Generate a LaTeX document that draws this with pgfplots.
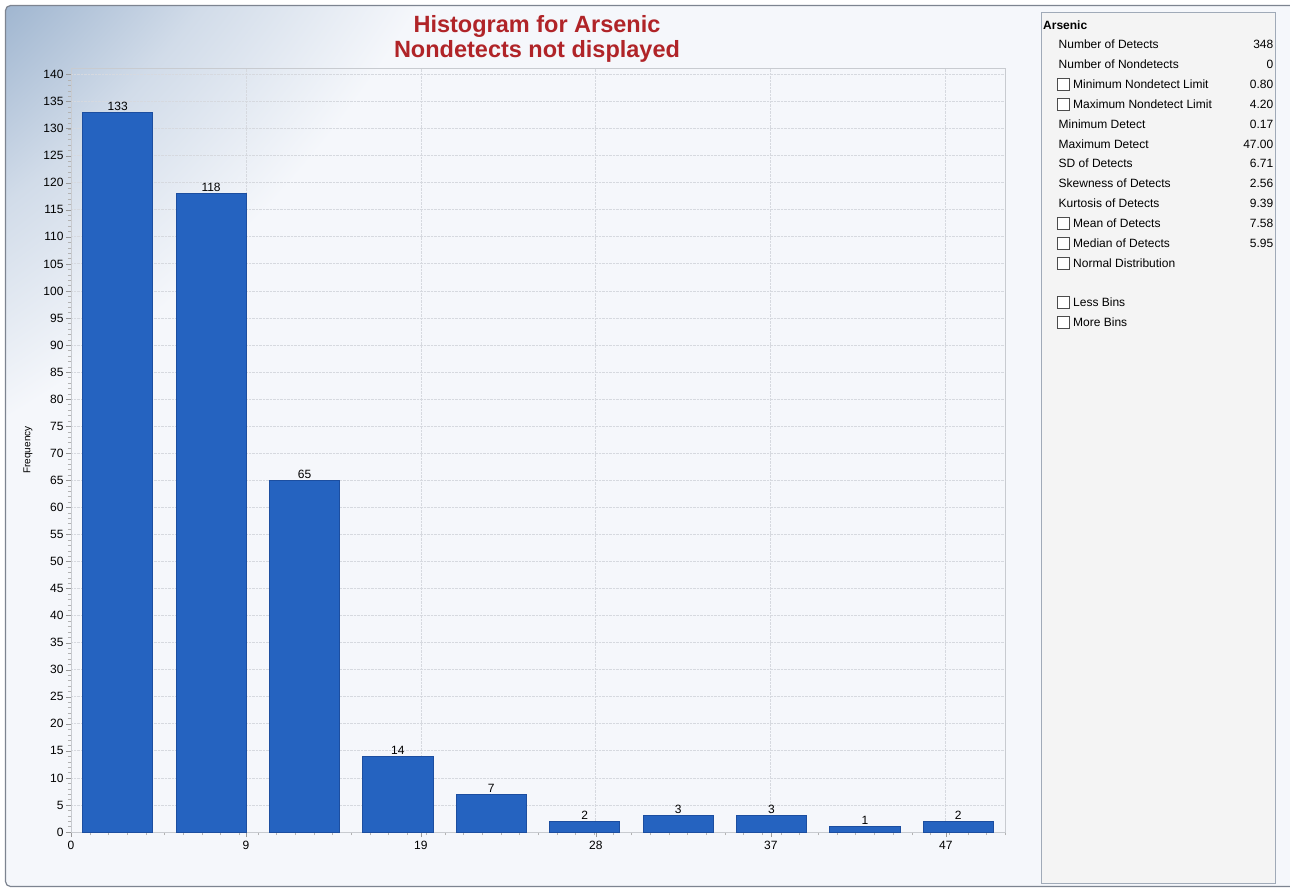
\documentclass[border=0pt]{standalone}
\usepackage{pgfplots}
\pgfplotsset{compat=1.18}
\usepackage{fontspec}
\setmainfont{Liberation Sans}

\definecolor{bgcol}{RGB}{245,247,251}
\definecolor{shadecol}{RGB}{160,182,208}
\colorlet{midcol}{shadecol!42!bgcol}
\definecolor{framecol}{RGB}{125,132,144}
\definecolor{panelbg}{RGB}{244,244,244}
\definecolor{panelline}{RGB}{160,170,184}
\definecolor{titlecol}{RGB}{176,36,40}
\definecolor{barfill}{RGB}{37,99,192}
\definecolor{barline}{RGB}{28,78,160}
\definecolor{gridcol}{RGB}{214,217,223}
\definecolor{axiscol}{RGB}{200,203,208}

% fade from the top left corner: a wide circle far up-left, so its rings run almost diagonally
% (path radius 1200pt <-> 25bp; corner at 848pt)
\pgfdeclareradialshading{cornerfade}{\pgfpoint{0bp}{0bp}}{color(0bp)=(shadecol); color(17.68bp)=(shadecol);
  color(20.8bp)=(midcol); color(24.55bp)=(bgcol); color(50bp)=(bgcol)}

\newcommand{\lbl}[3]{\node[anchor=west] at (1058.5,-#1) {#2};
  \node[anchor=east] at (1273.5,-#1) {#3};}
\newcommand{\cbx}[3]{\draw[black!70,fill=white,line width=0.8] (1057,-#1+6) rectangle (1069,-#1-6);
  \node[anchor=west] at (1073,-#1) {#2};
  \node[anchor=east] at (1273.5,-#1) {#3};}

\begin{document}
\begin{tikzpicture}[x=1pt,y=1pt]
\path[use as bounding box] (0,0) rectangle (1290,-888);
\fill[white] (0,0) rectangle (1290,-888);
\begin{scope}
\clip[rounded corners=5pt] (5.5,-5.5) rectangle (1300,-886.5);
\fill[bgcol] (0,0) rectangle (1290,-888);
\shade[shading=cornerfade] (-595,595) circle (1200);
\end{scope}
\draw[framecol, line width=1.2, rounded corners=5pt] (5.5,-5.5) rectangle (1300,-886.5);

% statistics panel
\draw[fill=panelbg, draw=panelline, line width=1] (1041,-12.5) rectangle (1275.5,-883);
\begin{scope}[every node/.style={inner sep=0pt, font=\fontsize{12}{14}\selectfont}]
\node[anchor=west, font=\bfseries\fontsize{12}{14}\selectfont] at (1043,-25) {Arsenic};
\lbl{44}{Number of Detects}{348}
\lbl{64}{Number of Nondetects}{0}
\cbx{84}{Minimum Nondetect Limit}{0.80}
\cbx{104}{Maximum Nondetect Limit}{4.20}
\lbl{124}{Minimum Detect}{0.17}
\lbl{144}{Maximum Detect}{47.00}
\lbl{163}{SD of Detects}{6.71}
\lbl{183}{Skewness of Detects}{2.56}
\lbl{203}{Kurtosis of Detects}{9.39}
\cbx{223}{Mean of Detects}{7.58}
\cbx{243}{Median of Detects}{5.95}
\cbx{263}{Normal Distribution}{}
\cbx{302}{Less Bins}{}
\cbx{322}{More Bins}{}
\end{scope}

% title
\node[text=titlecol, font=\bfseries\fontsize{23.5}{25}\selectfont, align=center] at (537,-38.5) {Histogram for Arsenic\\Nondetects not displayed};
\node[rotate=90, font=\fontsize{10}{12}\selectfont] at (28,-450) {Frequency};

\begin{axis}[
  at={(71pt,-832pt)}, anchor=south west,
  width=934pt, height=764pt, scale only axis,
  xmin=0, xmax=50, ymin=0, ymax=141.2,
  axis background/.style={fill=none},
  axis line style={draw=axiscol},
  xtick={0,9.366,18.732,28.098,37.464,46.83},
  xticklabels={0,9,19,28,37,47},
  minor xtick={1,2,...,50},
  ytick={0,5,...,140},
  minor ytick={1,2,...,140},
  xtick pos=bottom, ytick pos=left,
  tick align=outside,
  major tick length=5pt, minor tick length=3pt,
  tick style={draw=black!40},
  minor tick style={draw=black!30},
  grid=major,
  major grid style={draw=gridcol, densely dotted, line width=0.8},
  /pgf/number format/assume math mode=true,
  ticklabel style={font=\fontsize{12}{14}\selectfont},
  yticklabel style={xshift=1pt},
  xticklabel style={yshift=-1pt},
  ybar, bar width=3.75,
  nodes near coords,
  every node near coord/.append style={font=\fontsize{12}{14}\selectfont, text=black, inner sep=1.5pt},
]
\addplot[fill=barfill, draw=barline, line width=0.8] coordinates {
(2.5,133) (7.5,118) (12.5,65) (17.5,14) (22.5,7)
(27.5,2) (32.5,3) (37.5,3) (42.5,1) (47.5,2)
};
\end{axis}
\end{tikzpicture}
\end{document}
